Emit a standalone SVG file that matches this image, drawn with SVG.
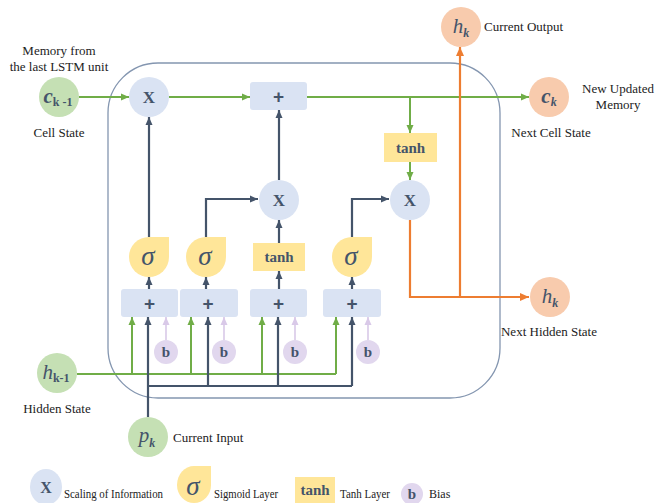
<svg xmlns="http://www.w3.org/2000/svg" width="658" height="503" viewBox="0 0 658 503">
<style>
.lbl{font-family:"Liberation Serif","Times New Roman",serif;font-size:13px;fill:#222;}
.leg{font-family:"Liberation Serif","Times New Roman",serif;font-size:12px;fill:#222;}
.sym{font-family:"Liberation Serif","Times New Roman",serif;fill:#44546a;font-weight:bold;text-anchor:middle;}
.math{font-family:"Liberation Serif","Times New Roman",serif;fill:#44546a;font-style:italic;text-anchor:middle;}
.plus{font-family:"Liberation Sans",Arial,sans-serif;fill:#44546a;font-weight:bold;text-anchor:middle;font-size:19px;}
.mul{fill:#dae3f3;}
.add{fill:#dae3f3;}
.sig{fill:#ffe699;}
.tanh{fill:#ffe699;}
.bias{fill:#e1d7ee;}
.inp{fill:#c5e0b4;}
.out{fill:#f8cbad;}
.g{stroke:#70ad47;stroke-width:2;fill:none;}
.d{stroke:#44546a;stroke-width:2.2;fill:none;}
.o{stroke:#ed7d31;stroke-width:2.2;fill:none;}
.p{stroke:#d9c9e8;stroke-width:1.6;fill:none;}
</style>
<defs>
<marker id="ag" markerUnits="userSpaceOnUse" markerWidth="8" markerHeight="8" refX="8" refY="4" orient="auto"><path d="M0,0.5 L8,4 L0,7.5 z" fill="#70ad47"/></marker>
<marker id="ad" markerUnits="userSpaceOnUse" markerWidth="8" markerHeight="8" refX="8" refY="4" orient="auto"><path d="M0,0.5 L8,4 L0,7.5 z" fill="#44546a"/></marker>
<marker id="ao" markerUnits="userSpaceOnUse" markerWidth="9" markerHeight="9" refX="9" refY="4.5" orient="auto"><path d="M0,0.5 L9,4.5 L0,8.5 z" fill="#ed7d31"/></marker>
<marker id="ap" markerUnits="userSpaceOnUse" markerWidth="8" markerHeight="8" refX="8" refY="4" orient="auto"><path d="M0,0.5 L8,4 L0,7.5 z" fill="#d9c9e8"/></marker>
</defs>
<rect width="658" height="503" fill="#fff"/>

<!-- LSTM cell boundary -->
<rect id="cell" x="108" y="63" width="392" height="335" rx="50" ry="50" fill="none" stroke="#8496b0" stroke-width="1.3"/>

<!-- connectors -->
<g id="connectors">
  <line class="g" x1="79" y1="97" x2="129" y2="97" marker-end="url(#ag)"/>
  <line class="g" x1="169" y1="97" x2="250" y2="97" marker-end="url(#ag)"/>
  <line class="g" x1="307" y1="97" x2="529" y2="97" marker-end="url(#ag)"/>
  <line class="g" x1="410" y1="97" x2="410" y2="133" marker-end="url(#ag)"/>
  <line class="g" x1="410" y1="162" x2="410" y2="180" marker-end="url(#ag)"/>
  <polyline class="o" points="410,220 410,297 529,297" marker-end="url(#ao)"/>
  <line class="o" x1="460" y1="297" x2="460" y2="47" marker-end="url(#ao)"/>
  <line class="d" x1="149" y1="237" x2="149" y2="117" marker-end="url(#ad)"/>
  <polyline class="d" points="206,237 206,199 258,199" marker-end="url(#ad)"/>
  <line class="d" x1="279" y1="243" x2="279" y2="220" marker-end="url(#ad)"/>
  <line class="d" x1="279" y1="180" x2="279" y2="110" marker-end="url(#ad)"/>
  <polyline class="d" points="352,237 352,199 389,199" marker-end="url(#ad)"/>
  <line class="d" x1="149" y1="289" x2="149" y2="277" marker-end="url(#ad)"/>
  <line class="d" x1="206" y1="289" x2="206" y2="277" marker-end="url(#ad)"/>
  <line class="d" x1="279" y1="289" x2="279" y2="271" marker-end="url(#ad)"/>
  <line class="d" x1="352" y1="289" x2="352" y2="277" marker-end="url(#ad)"/>
  <line class="g" x1="77" y1="374" x2="336" y2="374"/>
  <line class="g" x1="132" y1="374" x2="132" y2="317" marker-end="url(#ag)"/>
  <line class="g" x1="191" y1="374" x2="191" y2="317" marker-end="url(#ag)"/>
  <line class="g" x1="262" y1="374" x2="262" y2="317" marker-end="url(#ag)"/>
  <line class="g" x1="336" y1="374" x2="336" y2="317" marker-end="url(#ag)"/>
  <line class="d" x1="148" y1="417" x2="148" y2="317" marker-end="url(#ad)"/>
  <line class="d" x1="148" y1="386" x2="352" y2="386"/>
  <line class="d" x1="208" y1="386" x2="208" y2="317" marker-end="url(#ad)"/>
  <line class="d" x1="278" y1="386" x2="278" y2="317" marker-end="url(#ad)"/>
  <line class="d" x1="352" y1="386" x2="352" y2="317" marker-end="url(#ad)"/>
  <line class="p" x1="166" y1="340" x2="166" y2="317" marker-end="url(#ap)"/>
  <line class="p" x1="224" y1="340" x2="224" y2="317" marker-end="url(#ap)"/>
  <line class="p" x1="295" y1="340" x2="295" y2="317" marker-end="url(#ap)"/>
  <line class="p" x1="368" y1="340" x2="368" y2="317" marker-end="url(#ap)"/>
</g>

<!-- external nodes -->
<g id="c_prev">
  <circle class="inp" cx="59" cy="97" r="20"/>
  <text class="sym" x="58" y="103"><tspan font-style="italic" font-size="21">c</tspan><tspan font-size="12" dy="3">k -1</tspan></text>
  <text class="lbl" x="59" y="55" text-anchor="middle">Memory from</text>
  <text class="lbl" x="59" y="71" text-anchor="middle">the last LSTM unit</text>
  <text class="lbl" x="59" y="137" text-anchor="middle">Cell State</text>
</g>
<g id="h_prev">
  <circle class="inp" cx="57" cy="373" r="20"/>
  <text class="math" x="56" y="379"><tspan font-size="21">h</tspan><tspan font-size="12" dy="3" font-weight="bold" font-style="normal">k-1</tspan></text>
  <text class="lbl" x="57" y="413" text-anchor="middle">Hidden State</text>
</g>
<g id="p_k">
  <circle class="inp" cx="148" cy="437" r="20"/>
  <text class="math" x="147" y="442"><tspan font-size="21">p</tspan><tspan font-size="12" dy="5" font-weight="bold">k</tspan></text>
  <text class="lbl" x="173" y="442">Current Input</text>
</g>
<g id="c_k">
  <circle class="out" cx="549" cy="97" r="20"/>
  <text class="sym" x="549" y="103"><tspan font-style="italic" font-size="21">c</tspan><tspan font-style="italic" font-size="12" dy="3">k</tspan></text>
  <text class="lbl" x="618" y="93" text-anchor="middle">New Updated</text>
  <text class="lbl" x="618" y="109" text-anchor="middle">Memory</text>
  <text class="lbl" x="551" y="137" text-anchor="middle">Next Cell State</text>
</g>
<g id="h_out">
  <circle class="out" cx="461" cy="27" r="20"/>
  <text class="math" x="461" y="33"><tspan font-size="21">h</tspan><tspan font-size="12" dy="4" font-weight="bold">k</tspan></text>
  <text class="lbl" x="484" y="31">Current Output</text>
</g>
<g id="h_k">
  <circle class="out" cx="550" cy="297" r="20"/>
  <text class="math" x="550" y="303"><tspan font-size="21">h</tspan><tspan font-size="12" dy="4" font-weight="bold">k</tspan></text>
  <text class="lbl" x="549" y="336" text-anchor="middle">Next Hidden State</text>
</g>

<!-- pointwise ops -->
<g id="mul_forget">
  <circle class="mul" cx="149" cy="97" r="20"/>
  <text class="sym" x="149" y="103" font-size="17">X</text>
</g>
<g id="add_cell">
  <rect class="add" x="250" y="82" width="57" height="28" rx="3"/>
  <text class="plus" x="278.5" y="103">+</text>
</g>
<g id="tanh_out">
  <rect class="tanh" x="384" y="133" width="53" height="29"/>
  <text class="sym" x="410.5" y="153" font-size="15">tanh</text>
</g>
<g id="mul_out">
  <circle class="mul" cx="410" cy="200" r="20"/>
  <text class="sym" x="410" y="206" font-size="17">X</text>
</g>
<g id="mul_input">
  <circle class="mul" cx="279" cy="200" r="20"/>
  <text class="sym" x="279" y="206" font-size="17">X</text>
</g>

<!-- gates -->
<g id="sig_forget">
  <path class="sig" d="M149,237 H169 V257 A20,20 0 0 1 149,277 A20,20 0 0 1 129,257 A20,20 0 0 1 149,237 Z"/>
  <text class="math" x="148" y="265" font-size="27">σ</text>
</g>
<g id="sig_input">
  <path class="sig" d="M206,237 H226 V257 A20,20 0 0 1 206,277 A20,20 0 0 1 186,257 A20,20 0 0 1 206,237 Z"/>
  <text class="math" x="205" y="265" font-size="27">σ</text>
</g>
<g id="tanh_cand">
  <rect class="tanh" x="253" y="243" width="52" height="28"/>
  <text class="sym" x="279" y="262" font-size="15">tanh</text>
</g>
<g id="sig_output">
  <path class="sig" d="M352,237 H372 V257 A20,20 0 0 1 352,277 A20,20 0 0 1 332,257 A20,20 0 0 1 352,237 Z"/>
  <text class="math" x="351" y="265" font-size="27">σ</text>
</g>

<!-- sums -->
<g id="sum1"><rect class="add" x="121" y="289" width="57" height="28" rx="3"/><text class="plus" x="149.5" y="310">+</text></g>
<g id="sum2"><rect class="add" x="180" y="289" width="58" height="28" rx="3"/><text class="plus" x="208" y="310">+</text></g>
<g id="sum3"><rect class="add" x="250" y="289" width="57" height="28" rx="3"/><text class="plus" x="278.5" y="310">+</text></g>
<g id="sum4"><rect class="add" x="323" y="289" width="58" height="28" rx="3"/><text class="plus" x="352" y="310">+</text></g>

<!-- biases -->
<g id="b1"><circle class="bias" cx="166" cy="352" r="12"/><text class="sym" x="166" y="357" font-size="15">b</text></g>
<g id="b2"><circle class="bias" cx="224" cy="352" r="12"/><text class="sym" x="224" y="357" font-size="15">b</text></g>
<g id="b3"><circle class="bias" cx="295" cy="352" r="12"/><text class="sym" x="295" y="357" font-size="15">b</text></g>
<g id="b4"><circle class="bias" cx="368" cy="352" r="12"/><text class="sym" x="368" y="357" font-size="15">b</text></g>

<!-- legend -->
<g id="legend">
  <ellipse class="mul" cx="46" cy="487" rx="16" ry="18"/>
  <text class="sym" x="46" y="493" font-size="16" font-weight="normal">X</text>
  <text class="leg" x="64" y="498" textLength="99" lengthAdjust="spacingAndGlyphs">Scaling of Information</text>
  <path class="sig" d="M194,466 H211 V485 A17,18 0 0 1 194,503 A17,18 0 0 1 177,485 A17,19 0 0 1 194,466 Z"/>
  <text class="math" x="193" y="495" font-size="27">σ</text>
  <text class="leg" x="214" y="498" textLength="64" lengthAdjust="spacingAndGlyphs">Sigmoid Layer</text>
  <rect class="tanh" x="295" y="477" width="40" height="26"/>
  <text class="sym" x="315" y="495" font-size="15" font-weight="normal">tanh</text>
  <text class="leg" x="340" y="498" textLength="50" lengthAdjust="spacingAndGlyphs">Tanh Layer</text>
  <circle class="bias" cx="412" cy="494" r="11"/>
  <text class="sym" x="412" y="499" font-size="15" font-weight="normal">b</text>
  <text class="leg" x="429" y="498">Bias</text>
</g>
</svg>
